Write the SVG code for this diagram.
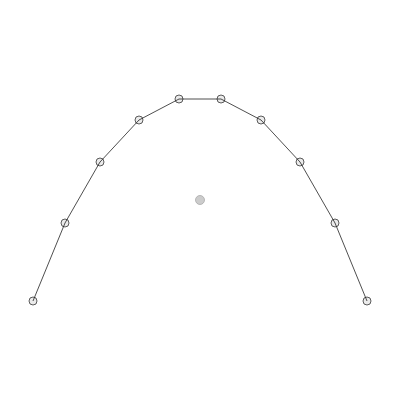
<svg xmlns="http://www.w3.org/2000/svg" width="400" height="400" viewBox="0 0 400 400">
<style>
.pt{fill:#ddd;fill-opacity:0.6;stroke:#333;stroke-width:0.8}
.ln{fill:none;stroke:#222;stroke-width:0.8}
</style>
<rect width="400" height="400" fill="#fff"/>
<g id="points">
<circle class="pt" cx="33" cy="301" r="4"/>
<circle class="pt" cx="65" cy="223" r="4"/>
<circle class="pt" cx="100" cy="162" r="4"/>
<circle class="pt" cx="139" cy="120" r="4"/>
<circle class="pt" cx="179" cy="99" r="4"/>
<circle class="pt" cx="221" cy="99" r="4"/>
<circle class="pt" cx="261" cy="120" r="4"/>
<circle class="pt" cx="300" cy="162" r="4"/>
<circle class="pt" cx="335" cy="223" r="4"/>
<circle class="pt" cx="367" cy="301" r="4"/>
</g>
<g id="connectors">
<polyline class="ln" points="33,301 65,223 100,162 139,120 179,99 221,99 261,120 300,162 335,223 367,301"/>
</g>
<g id="center">
<circle cx="200" cy="200" r="4.5" fill="#ccc" stroke="#aaa" stroke-width="0.8"/>
</g>
</svg>
